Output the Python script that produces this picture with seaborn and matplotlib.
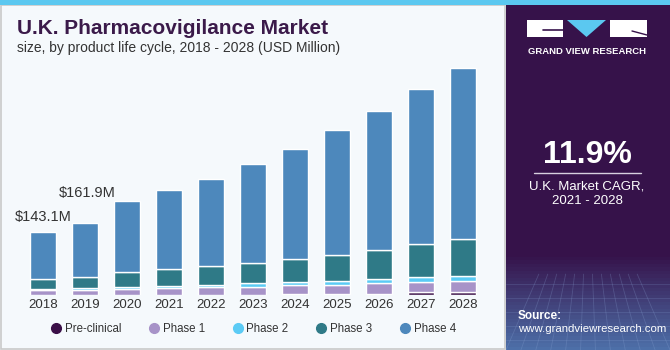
import numpy as np
import pandas as pd
import matplotlib
matplotlib.use("Agg")
import matplotlib.pyplot as plt
from matplotlib.patches import Rectangle, Polygon
from matplotlib.lines import Line2D
import seaborn as sns

# data (USD Million)
years = ["2018", "2019", "2020", "2021", "2022", "2023", "2024", "2025", "2026", "2027", "2028"]
pre_clinical = [0.6, 0.7, 0.8, 0.9, 1.0, 1.1, 1.2, 1.4, 1.6, 6.8, 7.5]
phase_1 = [10.0, 11.3, 13.4, 14.9, 16.4, 17.7, 20.7, 21.9, 24.8, 21.9, 24.2]
phase_2 = [3.6, 3.8, 4.5, 5.3, 6.0, 7.5, 7.5, 9.0, 9.0, 11.3, 11.3]
phase_3 = [21.9, 24.9, 33.9, 37.7, 42.2, 46.7, 52.0, 58.8, 66.2, 75.3, 82.9]
totals = [143.1, 161.9, 213.0, 238.0, 263.0, 297.0, 331.0, 372.0, 415.0, 465.0, 512.0]
phase_4 = [t - a - b - c - d for t, a, b, c, d in zip(totals, pre_clinical, phase_1, phase_2, phase_3)]

segments = ["Pre-clinical", "Phase 1", "Phase 2", "Phase 3", "Phase 4"]
seg_values = [pre_clinical, phase_1, phase_2, phase_3, phase_4]
seg_colors = ["#3A0F47", "#A793C8", "#5BCBF5", "#2F7A87", "#4D88BC"]

bg = "#F5F9FC"
W, H = 670, 350

sns.set_style("white")
plt.rcParams["font.family"] = ["Liberation Sans", "DejaVu Sans"]

fig = plt.figure(figsize=(6.7, 3.5), dpi=100, facecolor=bg)

# chart area
ax = fig.add_axes([22 / W, (H - 295) / H, 462 / W, 235 / H])
ax.set_facecolor(bg)
bottom = np.zeros(len(years))
for name, vals, col in zip(segments, seg_values, seg_colors):
    sns.barplot(x=years, y=vals, bottom=bottom, color=col, width=0.6,
                errorbar=None, saturation=1, ax=ax)
    bottom = bottom + np.array(vals)

ax.set_ylim(0, 531)
ax.set_xlim(-0.5, 10.5)
ax.set_yticks([])
ax.set_ylabel("")
ax.tick_params(axis="x", length=0, labelsize=9.5, labelcolor="#333333", pad=3)
sns.despine(ax=ax, left=True, bottom=True)

# value labels on first two bars
ax.annotate("$143.1M", (0, totals[0]), xytext=(0, 15), textcoords="offset pixels",
            ha="center", va="center", fontsize=10.5, color="#333333")
ax.annotate("$161.9M", (1, totals[1]), xytext=(2, 30), textcoords="offset pixels",
            ha="center", va="center", fontsize=10.5, color="#333333")

# titles
fig.text(17 / W, 1 - 28 / H, "U.K. Pharmacovigilance Market", fontsize=15,
         fontweight="bold", color="#3B1A4A", va="center", ha="left")
fig.text(17 / W, 1 - 48 / H, "size, by product life cycle, 2018 - 2028 (USD Million)",
         fontsize=10, color="#333333", va="center", ha="left")

# legend
handles = [Line2D([0], [0], marker="o", linestyle="", markersize=7,
                  markerfacecolor=c, markeredgecolor=c) for c in seg_colors]
fig.legend(handles, segments, loc="center", bbox_to_anchor=(253 / W, 1 - 329 / H),
           ncol=5, frameon=False, fontsize=8.3, handletextpad=0.25,
           columnspacing=2.35, labelcolor="#333333", handlelength=1.0)

# frame + top strip
fig.patches.append(Rectangle((0.5 / W, 1.5 / H), 505 / W, (H - 6) / H,
                             transform=fig.transFigure, fill=False,
                             edgecolor="#C9C9C9", linewidth=1.2))
fig.patches.append(Rectangle((0, 1 - 5 / H), 1, 5 / H, transform=fig.transFigure,
                             facecolor="#5BC8F0", edgecolor="none"))

# right panel
rp = fig.add_axes([506 / W, 0, (W - 506) / W, (H - 5) / H])
grad = np.zeros((100, 2, 3))
top_c = np.array(matplotlib.colors.to_rgb("#36124A"))
bot_c = np.array(matplotlib.colors.to_rgb("#4D6FA8"))
for i in range(100):
    t = max(0, (i - 72) / 27)
    grad[i, :, :] = top_c * (1 - t) + bot_c * t
rp.imshow(grad, aspect="auto", extent=[0, 1, 0, 1], origin="upper")
# faint grid pattern at the bottom
for k in range(12):
    rp.plot([k / 11, 0.5 + (k / 11 - 0.5) * 0.6], [0, 0.22], color="#8FA8D8",
            alpha=0.25, linewidth=0.6)
for yy in [0.03, 0.07, 0.11, 0.15, 0.19]:
    rp.plot([0, 1], [yy, yy], color="#8FA8D8", alpha=0.2, linewidth=0.6)
rp.set_xlim(0, 1)
rp.set_ylim(0, 1)
rp.axis("off")

# logo
fig.patches.append(Rectangle((527 / W, 1 - 37 / H), 36 / W, 17 / H,
                             transform=fig.transFigure, facecolor="white", edgecolor="none"))
fig.patches.append(Polygon([(567 / W, 1 - 20 / H), (606 / W, 1 - 20 / H), (586.5 / W, 1 - 37 / H)],
                           closed=True, transform=fig.transFigure,
                           facecolor="#5BC8F0", edgecolor="none"))
fig.patches.append(Rectangle((610 / W, 1 - 37 / H), 37 / W, 17 / H,
                             transform=fig.transFigure, facecolor="white", edgecolor="none"))
fig.add_artist(Line2D([543 / W, 563 / W], [1 - 30 / H, 1 - 30 / H], color="#36124A",
                      linewidth=1.2, transform=fig.transFigure))
fig.add_artist(Line2D([632 / W, 647 / W], [1 - 31 / H, 1 - 35 / H], color="#36124A",
                      linewidth=1.0, transform=fig.transFigure))
fig.text(587 / W, 1 - 51 / H, "GRAND VIEW RESEARCH", color="white", fontsize=6.8,
         fontweight="bold", ha="center", va="center")

fig.text(587 / W, 1 - 155 / H, "11.9%", color="white", fontsize=23,
         fontweight="bold", ha="center", va="center")
fig.add_artist(Line2D([534 / W, 641 / W], [1 - 173 / H, 1 - 173 / H], color="#D8D0DF",
                      linewidth=1, transform=fig.transFigure))
fig.text(587 / W, 1 - 186 / H, "U.K. Market CAGR,", color="white", fontsize=9.5,
         ha="center", va="center")
fig.text(587 / W, 1 - 201 / H, "2021 - 2028", color="white", fontsize=9.5,
         ha="center", va="center")
fig.text(518 / W, 1 - 316 / H, "Source:", color="white", fontsize=8.5,
         fontweight="bold", ha="left", va="center")
fig.text(518 / W, 1 - 329 / H, "www.grandviewresearch.com", color="white", fontsize=8.2,
         ha="left", va="center")

fig.savefig("out.png", dpi=100, facecolor=bg)
